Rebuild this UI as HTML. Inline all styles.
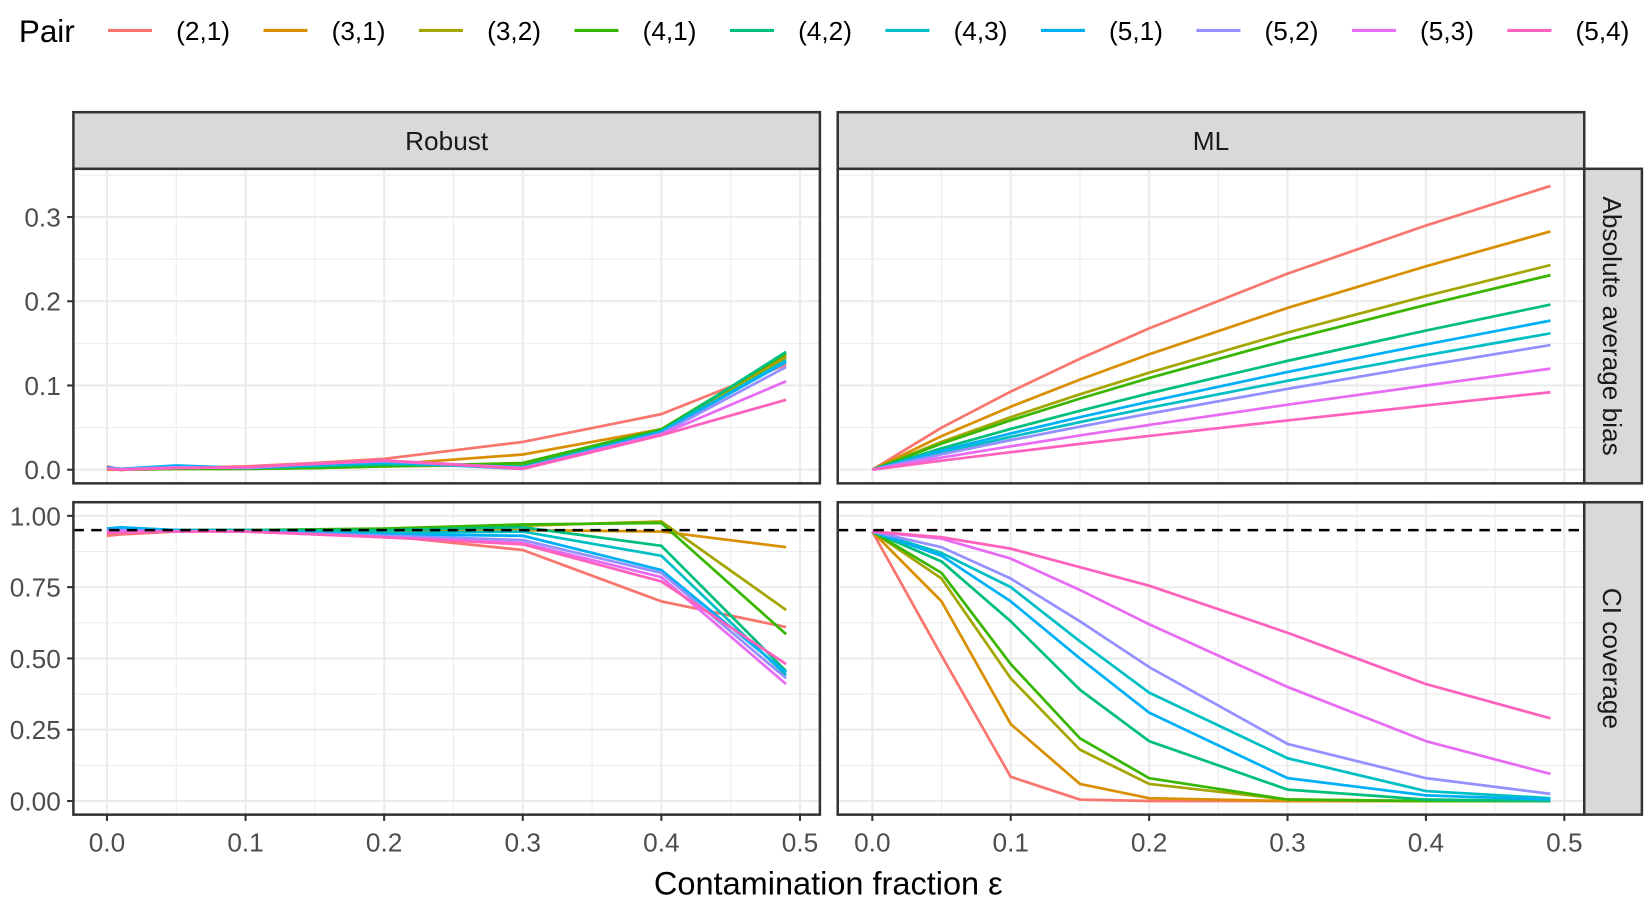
<!DOCTYPE html>
<html><head><meta charset="utf-8"><style>
html,body{margin:0;padding:0;background:#fff;}
svg{display:block;}
text{font-family:"Liberation Sans",Arial,sans-serif;}
</style></head><body>
<svg id="s" width="1644" height="898" viewBox="0 0 1568 856.5" preserveAspectRatio="none" xmlns="http://www.w3.org/2000/svg"></svg>
<script>
const cols=["#F8766D","#D89000","#A3A500","#39B600","#00BF7D","#00BFC4","#00B0F6","#9590FF","#E76BF3","#FF62BC"];
const names=["(2,1)","(3,1)","(3,2)","(4,1)","(4,2)","(4,3)","(5,1)","(5,2)","(5,3)","(5,4)"];
let h='';
h+=`<text x="18" y="40" font-size="30" fill="#000">Pair</text>`;
for(let i=0;i<10;i++){const x=103+i*148.3;
h+=`<line x1="${x}" y1="29" x2="${x+42}" y2="29" stroke="${cols[i]}" stroke-width="3"/>`;
h+=`<text x="${x+65}" y="38" font-size="25" fill="#000">${names[i]}</text>`;}
const P=[{x0:70,x1:782,tx0:102,tx1:763},{x0:799,x1:1511,tx0:832,tx1:1492}];
const R=[{y0:161,y1:461},{y0:479,y1:777}];
const ymap=[v=>448-v*(241/0.3), v=>764-v*272];
function X(p,v){return P[p].tx0+v*(P[p].tx1-P[p].tx0)/0.5;}
for(let r=0;r<2;r++)for(let p=0;p<2;p++){
 const pa=P[p],ro=R[r];
 h+=`<rect x="${pa.x0}" y="${ro.y0}" width="${pa.x1-pa.x0}" height="${ro.y1-ro.y0}" fill="#fff"/>`;
 for(let v=0.05;v<0.55;v+=0.1)h+=`<line x1="${X(p,v)}" x2="${X(p,v)}" y1="${ro.y0}" y2="${ro.y1}" stroke="#ebebeb" stroke-width="1"/>`;
 for(let k=0;k<=5;k++){const v=k/10;h+=`<line x1="${X(p,v)}" x2="${X(p,v)}" y1="${ro.y0}" y2="${ro.y1}" stroke="#ebebeb" stroke-width="2"/>`;}
 if(r==0){for(let k=0;k<4;k++){h+=`<line x1="${pa.x0}" x2="${pa.x1}" y1="${ymap[0](k/10)}" y2="${ymap[0](k/10)}" stroke="#ebebeb" stroke-width="2"/>`;h+=`<line x1="${pa.x0}" x2="${pa.x1}" y1="${ymap[0](k/10+0.05)}" y2="${ymap[0](k/10+0.05)}" stroke="#ebebeb" stroke-width="1"/>`;}}
 else{for(let k=0;k<5;k++){h+=`<line x1="${pa.x0}" x2="${pa.x1}" y1="${ymap[1](k/4)}" y2="${ymap[1](k/4)}" stroke="#ebebeb" stroke-width="2"/>`;if(k<4)h+=`<line x1="${pa.x0}" x2="${pa.x1}" y1="${ymap[1](k/4+0.125)}" y2="${ymap[1](k/4+0.125)}" stroke="#ebebeb" stroke-width="1"/>`;}}
}
const xr=[0,0.01,0.05,0.1,0.15,0.2,0.3,0.4,0.49];
const robTop=[
[0.004,0,0.002,0.004,0.008,0.013,0.033,0.066,0.125],
[0,0,0.001,0.002,0.004,0.006,0.018,0.048,0.135],
[0.001,0,0.001,0.001,0.002,0.004,0.006,0.047,0.133],
[0.001,0,0.001,0.001,0.002,0.004,0.008,0.048,0.138],
[0.002,0.001,0.003,0.002,0.004,0.006,0.004,0.046,0.14],
[0.002,0.001,0.004,0.002,0.005,0.008,0.003,0.045,0.13],
[0.003,0.001,0.005,0.002,0.006,0.009,0.001,0.045,0.128],
[0.002,0.001,0.003,0.002,0.007,0.01,0.002,0.043,0.122],
[0.001,0,0.002,0.003,0.007,0.011,0.002,0.042,0.105],
[0.001,0,0.002,0.003,0.007,0.011,0.001,0.041,0.083]];
const xm=[0,0.05,0.1,0.15,0.2,0.3,0.4,0.49];
const shape=[0,0.05,0.093,0.132,0.168,0.233,0.29,0.337];
const fin=[0.337,0.283,0.243,0.231,0.196,0.162,0.177,0.148,0.12,0.092];
const mlTop=fin.map(f=>shape.map((s,j)=>{const lin=xm[j]/0.49*f;const w=Math.min(1,(f-0.09)/0.25);return w*s*f/0.337+(1-w)*(0.7*lin+0.3*s*f/0.337);}));
const xb=[0,0.01,0.05,0.1,0.2,0.3,0.4,0.49];
const robBot=[
[.93,.935,.945,.945,.93,.88,.70,.61],
[.94,.94,.945,.95,.95,.95,.945,.89],
[.94,.945,.95,.95,.95,.965,.98,.67],
[.95,.95,.95,.95,.955,.97,.975,.585],
[.95,.955,.95,.95,.95,.96,.895,.455],
[.955,.958,.95,.95,.94,.945,.86,.44],
[.955,.96,.95,.945,.935,.93,.81,.45],
[.95,.95,.945,.945,.93,.915,.80,.43],
[.945,.945,.945,.945,.925,.905,.785,.41],
[.94,.94,.945,.945,.925,.90,.77,.48]];
const mlBot=[
[.945,.51,.085,.005,0,0,0,0],
[.945,.70,.27,.06,.01,0,0,0],
[.945,.78,.43,.18,.06,.005,0,0],
[.945,.80,.48,.22,.08,.005,0,0],
[.945,.84,.63,.39,.21,.04,.005,0],
[.945,.87,.75,.56,.38,.15,.035,.01],
[.945,.86,.70,.50,.31,.08,.02,.005],
[.945,.89,.78,.63,.47,.20,.08,.025],
[.945,.92,.85,.74,.62,.40,.21,.095],
[.945,.925,.885,.82,.755,.59,.41,.29]];
function line(p,r,xs,ys,c){return `<polyline fill="none" stroke="${c}" stroke-width="2.6" stroke-linejoin="round" points="${xs.map((x,i)=>X(p,x).toFixed(1)+','+ymap[r](ys[i]).toFixed(1)).join(' ')}"/>`;}
for(let i=0;i<10;i++){
 h+=line(0,0,xr,robTop[i],cols[i]);
 h+=line(1,0,xm,mlTop[i],cols[i]);
 h+=line(0,1,xb,robBot[i],cols[i]);
 h+=line(1,1,xm,mlBot[i],cols[i]);
}
for(let p=0;p<2;p++)h+=`<line x1="${P[p].x0}" x2="${P[p].x1}" y1="${ymap[1](0.95)}" y2="${ymap[1](0.95)}" stroke="#000" stroke-width="2.4" stroke-dasharray="10,7"/>`;
for(let r=0;r<2;r++)for(let p=0;p<2;p++)h+=`<rect x="${P[p].x0}" y="${R[r].y0}" width="${P[p].x1-P[p].x0}" height="${R[r].y1-R[r].y0}" fill="none" stroke="#333" stroke-width="2.4"/>`;
const st=["Robust","ML"];
for(let p=0;p<2;p++){h+=`<rect x="${P[p].x0}" y="107" width="${P[p].x1-P[p].x0}" height="54" fill="#d9d9d9" stroke="#333" stroke-width="2.4"/>`;
h+=`<text x="${(P[p].x0+P[p].x1)/2}" y="143" font-size="25" fill="#1a1a1a" text-anchor="middle">${st[p]}</text>`;}
const rs=["Absolute average bias","CI coverage"];
for(let r=0;r<2;r++){h+=`<rect x="1511" y="${R[r].y0}" width="55" height="${R[r].y1-R[r].y0}" fill="#d9d9d9" stroke="#333" stroke-width="2.4"/>`;
const cy=(R[r].y0+R[r].y1)/2;h+=`<text x="1529" y="${cy}" font-size="25" fill="#1a1a1a" text-anchor="middle" transform="rotate(90 1529 ${cy})">${rs[r]}</text>`;}
const yt0=["0.0","0.1","0.2","0.3"];
for(let k=0;k<4;k++){const y=ymap[0](k/10);h+=`<line x1="64" x2="70" y1="${y}" y2="${y}" stroke="#333" stroke-width="2"/><text x="58" y="${y+9}" font-size="25" fill="#4d4d4d" text-anchor="end">${yt0[k]}</text>`;}
const yt1=["0.00","0.25","0.50","0.75","1.00"];
for(let k=0;k<5;k++){const y=ymap[1](k/4);h+=`<line x1="64" x2="70" y1="${y}" y2="${y}" stroke="#333" stroke-width="2"/><text x="58" y="${y+9}" font-size="25" fill="#4d4d4d" text-anchor="end">${yt1[k]}</text>`;}
for(let p=0;p<2;p++)for(let k=0;k<=5;k++){const x=X(p,k/10);h+=`<line x1="${x}" x2="${x}" y1="777" y2="783" stroke="#333" stroke-width="2"/><text x="${x}" y="812" font-size="25" fill="#4d4d4d" text-anchor="middle">${(k/10).toFixed(1)}</text>`;}
h+=`<text x="790" y="853" font-size="31" fill="#000" text-anchor="middle">Contamination fraction ε</text>`;
document.getElementById('s').innerHTML=h;
</script>
</body></html>
